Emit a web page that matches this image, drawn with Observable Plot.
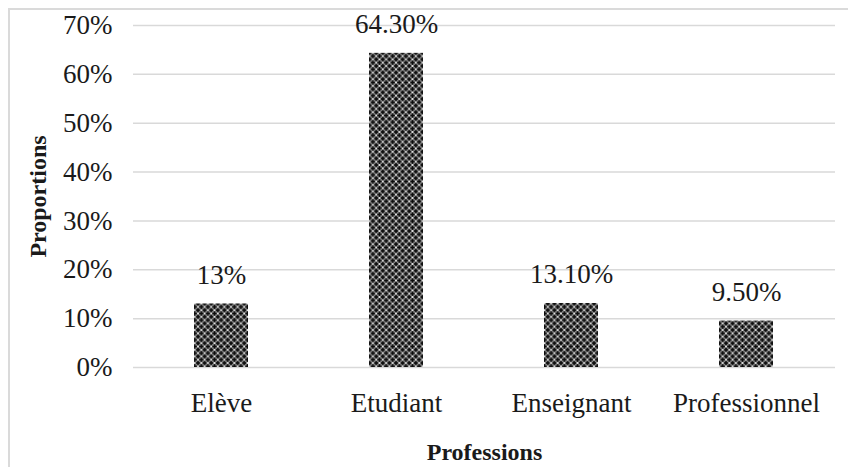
<!DOCTYPE html>
<html>
<head>
<meta charset="utf-8">
<script src="https://cdn.jsdelivr.net/npm/d3@7"></script>
<script src="https://cdn.jsdelivr.net/npm/@observablehq/plot@0.6"></script>
<style>
  html, body { margin: 0; padding: 0; background: #fff; }
  #wrap { position: relative; width: 848px; height: 467px; overflow: hidden; }
  #border { position: absolute; left: 8px; top: 8px; right: -10px; bottom: -10px;
            border-left: 2px solid #dadada; border-top: 2px solid #dadada; pointer-events: none; }
  svg text { font-family: 'Liberation Serif', 'Times New Roman', serif; }
</style>
</head>
<body>
<div id="wrap"><div id="border"></div></div>
<script>
const professions = ["Elève", "Etudiant", "Enseignant", "Professionnel"];
const values = [0.13, 0.643, 0.131, 0.095];
const valueLabels = ["13%", "64.30%", "13.10%", "9.50%"];
const yTicks = [0, 0.1, 0.2, 0.3, 0.4, 0.5, 0.6, 0.7];
const yTickLabels = ["0%", "10%", "20%", "30%", "40%", "50%", "60%", "70%"];

const data = professions.map((p, i) => ({profession: p, value: values[i], label: valueLabels[i]}));
const serif = "'Liberation Serif', 'Times New Roman', serif";

const chart = Plot.plot({
  width: 848,
  height: 467,
  marginLeft: 133,
  marginRight: 13,
  marginTop: 25,
  marginBottom: 100,
  style: {fontFamily: serif, color: "#1a1a1a", background: "transparent"},
  x: {domain: professions, paddingInner: 0.69, paddingOuter: 0.345, label: null},
  y: {domain: [0, 0.7], label: null},
  marks: [
    Plot.gridY(yTicks, {stroke: "#d9d9d9", strokeOpacity: 1, strokeWidth: 1.5}),
    Plot.barY(data, {x: "profession", y: "value", fill: "url(#dots)"}),
    Plot.text(data, {x: "profession", y: "value", text: "label", dy: -29, fontSize: 27, fontFamily: serif, fill: "#1a1a1a"}),
    Plot.axisY({ticks: yTicks, tickFormat: (d) => yTickLabels[yTicks.indexOf(d)], tickSize: 0, tickPadding: 21, fontSize: 27, label: null}),
    Plot.axisX({tickSize: 0, tickPadding: 25, fontSize: 27, label: null}),
    Plot.axisY({ticks: [], tickSize: 0, label: "Proportions", labelAnchor: "center", labelArrow: "none", labelOffset: 105, fontSize: 24, fontWeight: "bold"}),
    Plot.axisX({ticks: [], tickSize: 0, label: "Professions", labelAnchor: "center", labelArrow: "none", labelOffset: 92, fontSize: 24, fontWeight: "bold"})
  ]
});

const svg = d3.select(chart);
const defs = svg.insert("defs", ":first-child");
const s = 6.6, h = s / 2;
const pat = defs.append("pattern").attr("id", "dots").attr("patternUnits", "userSpaceOnUse")
  .attr("width", s).attr("height", s);
pat.append("rect").attr("width", s).attr("height", s).attr("fill", "#8c8c8c");
for (const [cx, cy] of [[0,0],[s,0],[0,s],[s,s],[h,h]]) {
  pat.append("rect").attr("x", cx - 2.2).attr("y", cy - 0.8).attr("width", 4.4).attr("height", 1.6).attr("fill", "#0a0a0a");
  pat.append("rect").attr("x", cx - 0.8).attr("y", cy - 2.2).attr("width", 1.6).attr("height", 4.4).attr("fill", "#0a0a0a");
}
for (const [cx, cy] of [[h,0],[0,h],[s,h],[h,s]]) {
  pat.append("rect").attr("x", cx - 0.8).attr("y", cy - 0.8).attr("width", 1.6).attr("height", 1.6).attr("fill", "#f2f2f2");
}
chart.style.position = "absolute";
chart.style.left = "0px";
chart.style.top = "0px";
document.getElementById("wrap").appendChild(chart);
</script>
</body>
</html>
